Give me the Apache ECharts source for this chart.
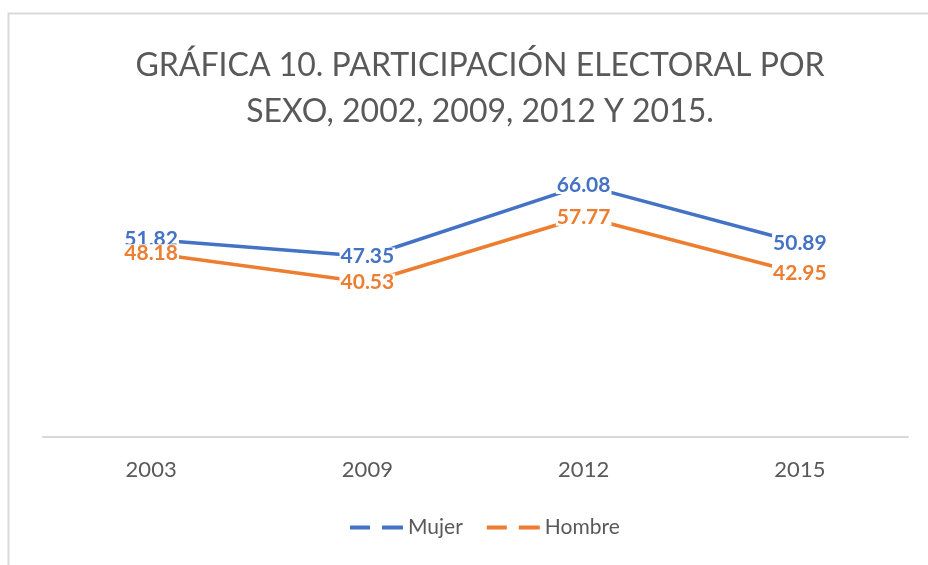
<!DOCTYPE html>
<html>
<head>
<meta charset="utf-8">
<script src="https://cdn.jsdelivr.net/npm/echarts@6/dist/echarts.min.js"></script>
<style>
html,body{margin:0;padding:0;background:#fff;}
#chart{width:928px;height:565px;}
</style>
</head>
<body>
<div id="chart"></div>
<script>
var years  = ["2003", "2009", "2012", "2015"];
var mujer  = [51.82, 47.35, 66.08, 50.89];
var hombre = [48.18, 40.53, 57.77, 42.95];

var Chart = echarts.init(document.getElementById('chart'));
var dashIcon = 'path://M0,0h20v4h-20z M32,0h21v4h-21z';
var font = 'Lato, "Open Sans", sans-serif';

// etiquetas en una serie aparte (otra capa) para que queden encima de las líneas
function labelSeries(name, data, color) {
    return {
        name: name,
        type: 'scatter',
        data: data,
        zlevel: 1,
        symbolSize: 1,
        itemStyle: {color: color, opacity: 1},
        label: {
            show: true,
            position: 'inside',
            color: color,
            fontWeight: 'bold',
            fontSize: 21,
            fontFamily: font,
            backgroundColor: '#fff',
            padding: [0, 1],
            lineHeight: 18
        }
    };
}

var option = {
    animation: false,
    backgroundColor: '#fff',
    color: ["#4472C4", "#ED7D31"],
    title: {
        text: "GRÁFICA 10. PARTICIPACIÓN ELECTORAL POR\nSEXO, 2002, 2009, 2012 Y 2015.",
        left: 475,
        textAlign: 'center',
        top: 38,
        textStyle: {
            color: '#595959',
            fontFamily: font,
            fontWeight: 'normal',
            fontSize: 32,
            lineHeight: 46
        }
    },
    graphic: [{
        type: 'rect',
        shape: {x: 8.5, y: 13.5, width: 1000, height: 600},
        style: {fill: 'none', stroke: '#d9d9d9', lineWidth: 2}
    }],
    legend: {
        bottom: 22,
        left: 345,
        itemGap: 24,
        itemWidth: 53,
        itemHeight: 4,
        textStyle: {color: '#595959', fontSize: 21, fontFamily: font},
        data: [
            {name: "Mujer", icon: dashIcon},
            {name: "Hombre", icon: dashIcon}
        ]
    },
    grid: {left: 43, right: 20, top: 132, bottom: 128},
    xAxis: {
        type: 'category',
        data: years,
        axisLine: {lineStyle: {color: '#d9d9d9', width: 2}},
        axisTick: {show: false},
        axisLabel: {color: '#595959', fontSize: 22, fontFamily: font, margin: 22}
    },
    yAxis: {
        type: 'value',
        min: 0,
        max: 80,
        show: false,
        splitLine: {show: false}
    },
    series: [{
        name: "Mujer",
        type: 'line',
        data: mujer,
        showSymbol: false,
        lineStyle: {width: 3.5}
    }, {
        name: "Hombre",
        type: 'line',
        data: hombre,
        showSymbol: false,
        lineStyle: {width: 3.5}
    },
    labelSeries("Mujer-etiqueta", mujer, '#4472C4'),
    labelSeries("Hombre-etiqueta", hombre, '#ED7D31')]
};
Chart.setOption(option);
</script>
</body>
</html>
